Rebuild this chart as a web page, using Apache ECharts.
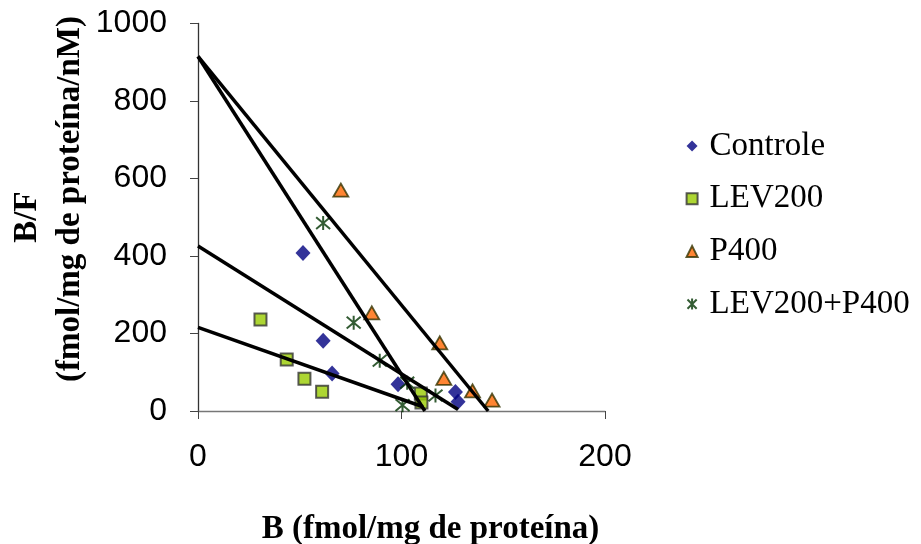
<!DOCTYPE html>
<html>
<head>
<meta charset="utf-8">
<script src="https://cdn.jsdelivr.net/npm/echarts@6/dist/echarts.min.js"></script>
<style>html,body{margin:0;padding:0;background:#fff}#c{width:921px;height:544px}</style>
</head>
<body>
<div id="c"></div>
<script>
// Series names
const seriesNames = ['Controle', 'LEV200', 'P400', 'LEV200+P400'];

// Scatter data: B (fmol/mg de proteína) and B/F
const controleB  = [51.6, 61.5, 65.9, 98.3, 126.5, 127.8];
const controleBF = [408, 181, 97, 69, 49, 24];

const lev200B  = [30.7, 43.6, 52.3, 61.0, 109.5, 109.8];
const lev200BF = [236, 133, 83, 50, 45, 22];

const p400B  = [70.2, 85.4, 118.8, 120.8, 134.9, 144.5];
const p400BF = [570, 253, 176, 84, 52, 28];

const comboB  = [61.5, 76.5, 89.3, 102.8, 116.7, 100.5];
const comboBF = [485, 228, 130, 73, 40, 15];

// Trend lines (start / end points)
const trendControleB  = [0, 127.8];
const trendControleBF = [426, 4];
const trendLev200B    = [0, 110.5];
const trendLev200BF   = [216, 11];
const trendP400B      = [0, 142.6];
const trendP400BF     = [915, 0];
const trendComboB     = [0, 111.5];
const trendComboBF    = [915, 0];

// Axis ticks
const xTicks = [0, 100, 200];
const yTicks = [0, 200, 400, 600, 800, 1000];

const zip = (a, b) => a.map((v, i) => [v, b[i]]);

const asterisk = 'path://M0,-6L0,6M-5,-5L5,5M-5,5L5,-5';

const serif = '"Liberation Serif", "Times New Roman", serif';
const sans = '"Liberation Sans", Arial, sans-serif';

const trendStyle = { color: '#000', width: 3.5 };
function trend(name, xs, ys) {
  return {
    name: name, type: 'line', data: zip(xs, ys), symbol: 'none',
    lineStyle: trendStyle, itemStyle: { color: '#000' }, silent: true, z: 5, animation: false
  };
}

const chart = echarts.init(document.getElementById('c'));
chart.setOption({
  animation: false,
  grid: { left: 198, right: 316, top: 23.5, bottom: 133, outerBoundsMode: 'none', containLabel: false },
  xAxis: {
    type: 'value', min: xTicks[0], max: xTicks[xTicks.length - 1], interval: 100,
    splitLine: { show: false },
    axisLine: { onZero: false, lineStyle: { color: '#777', width: 1.3 } },
    axisTick: { show: true, length: 8, lineStyle: { color: '#444' } },
    axisLabel: { color: '#000', fontFamily: sans, fontSize: 32, margin: 30, formatter: v => String(v) },
    name: 'B (fmol/mg de proteína)', nameLocation: 'middle', nameGap: 102,
    nameTextStyle: { color: '#000', fontFamily: serif, fontSize: 33, fontWeight: 'bold', padding: [0, 0, 0, 58] }
  },
  yAxis: {
    type: 'value', min: yTicks[0], max: yTicks[yTicks.length - 1], interval: 200,
    splitLine: { show: false },
    axisLine: { onZero: false, lineStyle: { color: '#333', width: 1.3 } },
    axisTick: { show: true, length: 8, lineStyle: { color: '#444' } },
    axisLabel: { color: '#000', fontFamily: sans, fontSize: 32, margin: 31, formatter: v => String(v) }
  },
  graphic: [
    { type: 'text', x: 27, y: 217, rotation: Math.PI / 2,
      style: { text: 'B/F', font: 'bold 33px ' + serif, fill: '#000', textAlign: 'center', textVerticalAlign: 'middle' } },
    { type: 'text', x: 70, y: 199, rotation: Math.PI / 2,
      style: { text: '(fmol/mg de proteína/nM)', font: 'bold 33px ' + serif, fill: '#000', textAlign: 'center', textVerticalAlign: 'middle' } }
  ],
  legend: {
    data: seriesNames, orient: 'vertical', left: 680, top: 124.5,
    itemWidth: 11, itemHeight: 11, itemGap: 19.7,
    textStyle: { color: '#000', fontFamily: serif, fontSize: 33, padding: [0, 0, 0, 7] }
  },
  series: [
    { name: seriesNames[0], type: 'scatter', data: zip(controleB, controleBF), symbol: 'diamond', symbolSize: [15, 16],
      itemStyle: { color: '#000080' }, z: 3 },
    { name: seriesNames[1], type: 'scatter', data: zip(lev200B, lev200BF), symbol: 'rect', symbolSize: 12,
      itemStyle: { color: '#99CC00', borderColor: '#333333', borderWidth: 2 }, z: 3 },
    { name: seriesNames[2], type: 'scatter', data: zip(p400B, p400BF), symbol: 'triangle', symbolSize: [15, 13],
      itemStyle: { color: '#FF6600', borderColor: '#333300', borderWidth: 1.8 }, z: 3 },
    { name: seriesNames[3], type: 'scatter', data: zip(comboB, comboBF), symbol: asterisk, symbolSize: 14,
      itemStyle: { color: 'none', borderColor: '#003300', borderWidth: 2 }, z: 3 },
    trend('Tendência Controle', trendControleB, trendControleBF),
    trend('Tendência LEV200', trendLev200B, trendLev200BF),
    trend('Tendência P400', trendP400B, trendP400BF),
    trend('Tendência LEV200+P400', trendComboB, trendComboBF)
  ]
});
</script>
</body>
</html>
